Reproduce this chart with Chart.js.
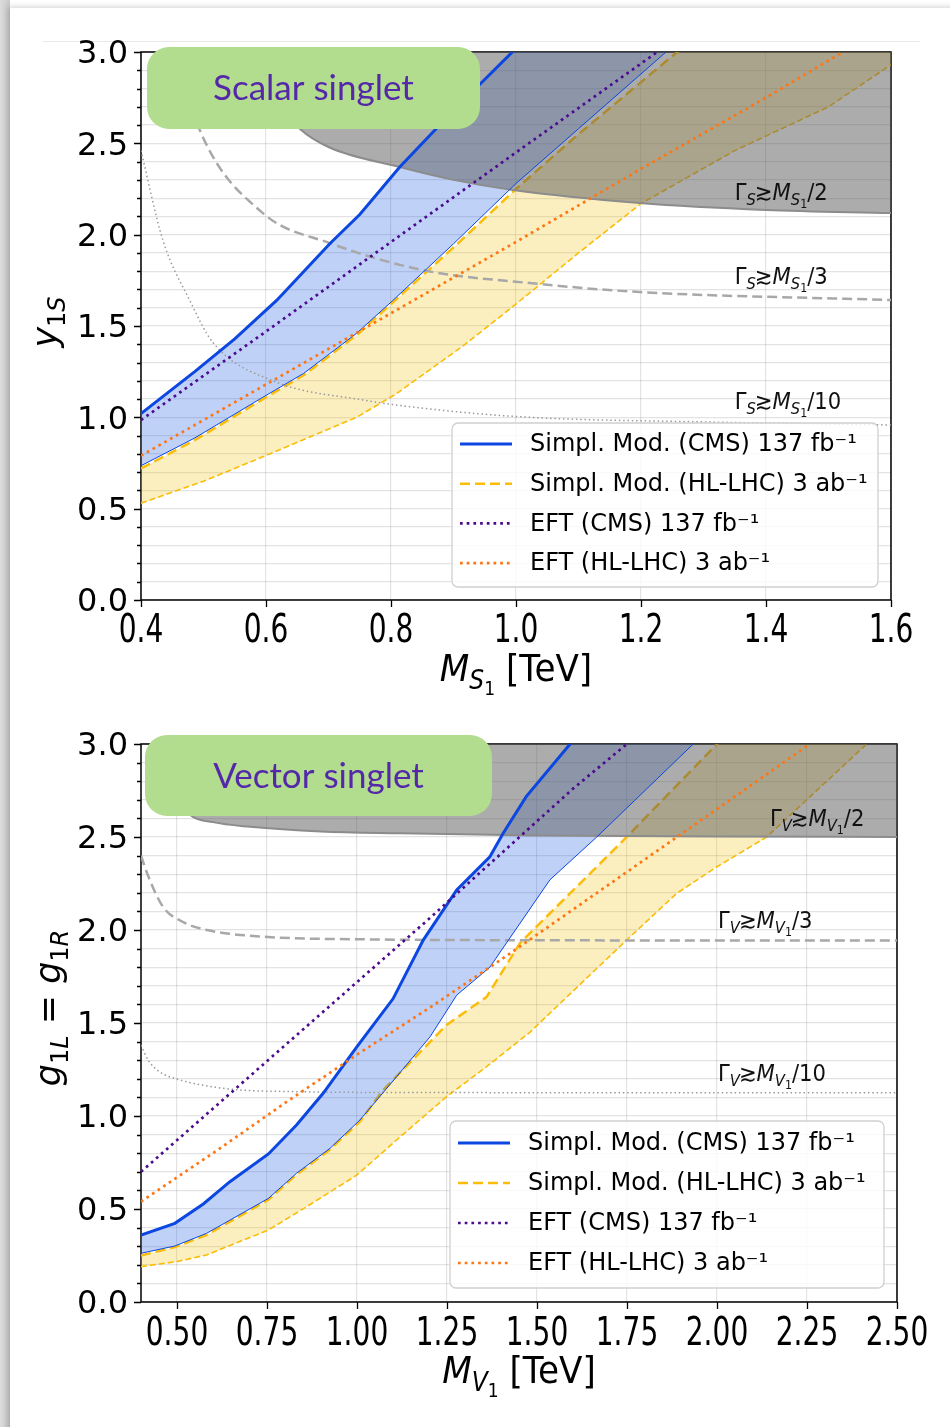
<!DOCTYPE html>
<html>
<head>
<meta charset="utf-8">
<script src="https://cdn.jsdelivr.net/npm/chart.js@4.4.0/dist/chart.umd.min.js"></script>
<style>
  html, body { margin: 0; padding: 0; background: #fff; }
  body { width: 950px; height: 1427px; position: relative; overflow: hidden; }
  #edge { position: absolute; left: 0; top: 0; width: 10px; height: 1427px; background: linear-gradient(to right, #dcdcdc, #c9c9c9); }
  #sheet { position: absolute; left: 10px; top: 8px; width: 960px; height: 1440px; background: #fff; box-shadow: -2px -1px 6px rgba(0,0,0,0.18); }
  #rule { position: absolute; left: 43px; top: 41px; width: 877px; height: 1px; background: #e8e8e8; }
  canvas { position: absolute; left: 0; }
  #scalar { top: 0; }
  #vector { top: 700px; }
</style>
</head>
<body>
<div id="edge"></div>
<div id="sheet"></div>
<div id="rule"></div>
<canvas id="scalar" width="950" height="700"></canvas>
<canvas id="vector" width="950" height="727"></canvas>
<script>
// shared y axis
const yMajor = [0, 0.5, 1.0, 1.5, 2.0, 2.5, 3.0];
const yTickLabels = ['0.0', '0.5', '1.0', '1.5', '2.0', '2.5', '3.0'];

// ---- scalar singlet ----
const sTicksX = [0.4, 0.6, 0.8, 1.0, 1.2, 1.4, 1.6];
const sTickLabelsX = ['0.4', '0.6', '0.8', '1.0', '1.2', '1.4', '1.6'];

const sHalfX = [0.55, 0.6, 0.654, 0.7, 0.814, 0.9, 0.995, 1.198, 1.4, 1.6];
const sHalfY = [3.0, 2.80, 2.58, 2.48, 2.37, 2.30, 2.244, 2.173, 2.135, 2.118];
const sThirdX = [0.47, 0.494, 0.595, 0.702, 0.851, 1.022, 1.198, 1.6];
const sThirdY = [2.85, 2.573, 2.118, 1.954, 1.806, 1.735, 1.686, 1.642];
const sTenthX = [0.4, 0.435, 0.478, 0.515, 0.611, 0.755, 0.878, 1.022, 1.3, 1.6];
const sTenthY = [2.46, 1.97, 1.64, 1.41, 1.20, 1.095, 1.04, 1.00, 0.975, 0.958];

const sCmsX = [0.4, 0.486, 0.55, 0.617, 0.702, 0.75, 0.814, 0.9, 1.0, 1.24];
const sCmsY = [1.02, 1.25, 1.43, 1.64, 1.95, 2.11, 2.37, 2.68, 3.02, 3.85];
const sCmsLowX = [0.4, 0.486, 0.595, 0.66, 0.745, 0.803, 0.9, 1.0, 1.1, 1.24];
const sCmsLowY = [0.735, 0.887, 1.11, 1.24, 1.46, 1.64, 1.95, 2.28, 2.58, 3.0];
const sHlX = [0.4, 0.486, 0.595, 0.66, 0.745, 0.803, 0.9, 1.0, 1.1, 1.258, 1.6];
const sHlY = [0.72, 0.875, 1.10, 1.23, 1.45, 1.63, 1.93, 2.25, 2.55, 3.0, 4.0];
const sHlLowX = [0.4, 0.5, 0.595, 0.745, 0.809, 0.915, 1.0, 1.1, 1.2, 1.35, 1.5, 1.6];
const sHlLowY = [0.53, 0.65, 0.784, 1.0, 1.13, 1.39, 1.62, 1.90, 2.17, 2.46, 2.70, 2.93];
const sEftCmsX = [0.4, 0.6, 0.8, 1.0, 1.226];
const sEftCmsY = [0.985, 1.47, 1.96, 2.45, 3.0];
const sEftHlX = [0.4, 0.6, 0.8, 1.0, 1.2, 1.4, 1.523];
const sEftHlY = [0.79, 1.18, 1.57, 1.96, 2.36, 2.75, 3.0];

// ---- vector singlet ----
const vTicksX = [0.5, 0.75, 1.0, 1.25, 1.5, 1.75, 2.0, 2.25, 2.5];
const vTickLabelsX = ['0.50', '0.75', '1.00', '1.25', '1.50', '1.75', '2.00', '2.25', '2.50'];

const vHalfX = [0.47, 0.5, 0.536, 0.6, 0.703, 0.9, 1.12, 1.5, 2.0, 2.5];
const vHalfY = [3.0, 2.72, 2.62, 2.58, 2.555, 2.53, 2.52, 2.508, 2.503, 2.5];
const vThirdX = [0.4, 0.42, 0.461, 0.52, 0.583, 0.739, 1.017, 1.5, 2.5];
const vThirdY = [2.40, 2.29, 2.125, 2.04, 2.0, 1.964, 1.95, 1.945, 1.943];
const vTenthX = [0.4, 0.42, 0.45, 0.508, 0.647, 0.833, 1.2, 2.5];
const vTenthY = [1.38, 1.30, 1.24, 1.194, 1.145, 1.131, 1.126, 1.125];

const vCmsX = [0.4, 0.494, 0.573, 0.647, 0.754, 0.832, 0.906, 1.0, 1.1, 1.184, 1.277, 1.369, 1.406, 1.47, 1.592, 1.934];
const vCmsY = [0.36, 0.423, 0.527, 0.647, 0.796, 0.952, 1.122, 1.373, 1.63, 1.946, 2.215, 2.394, 2.52, 2.717, 3.0, 3.8];
const vCmsLowX = [0.4, 0.494, 0.582, 0.754, 0.832, 0.925, 1.008, 1.11, 1.203, 1.277, 1.369, 1.536, 1.666, 1.934];
const vCmsLowY = [0.262, 0.301, 0.369, 0.557, 0.692, 0.826, 0.978, 1.211, 1.426, 1.65, 1.80, 2.27, 2.50, 3.0];
const vHlX = [0.4, 0.494, 0.582, 0.754, 0.832, 0.925, 1.008, 1.073, 1.249, 1.36, 1.453, 1.536, 1.656, 1.749, 2.0, 2.416];
const vHlY = [0.25, 0.295, 0.36, 0.55, 0.685, 0.82, 0.97, 1.14, 1.49, 1.64, 1.93, 2.09, 2.32, 2.50, 3.0, 3.83];
const vHlLowX = [0.4, 0.499, 0.582, 0.754, 0.86, 1.0, 1.11, 1.249, 1.36, 1.48, 1.749, 1.888, 2.0, 2.138, 2.416];
const vHlLowY = [0.19, 0.217, 0.253, 0.387, 0.512, 0.683, 0.871, 1.104, 1.265, 1.45, 1.946, 2.197, 2.34, 2.50, 3.0];
const vEftCmsX = [0.4, 0.6, 0.8, 1.0, 1.2, 1.4, 1.6, 1.75];
const vEftCmsY = [0.70, 1.04, 1.38, 1.72, 2.06, 2.41, 2.76, 3.0];
const vEftHlX = [0.4, 0.6, 0.8, 1.0, 1.2, 1.4, 1.6, 1.8, 2.0, 2.258];
const vEftHlY = [0.54, 0.80, 1.07, 1.33, 1.58, 1.84, 2.11, 2.38, 2.65, 3.0];

const legendNames = ['Simpl. Mod. (CMS) 137 fb⁻¹', 'Simpl. Mod. (HL-LHC) 3 ab⁻¹', 'EFT (CMS) 137 fb⁻¹', 'EFT (HL-LHC) 3 ab⁻¹'];

const BLUE = '#0b47e0', GOLD = '#fbbd0a', INDIGO = '#4b0a8f', ORANGE = '#ff7512';

function series(xs, ys) { return xs.map((x, i) => ({ x: x, y: ys[i] })); }

// minor grid every 0.1 on y
const yGrid = [];
for (let i = 0; i <= 30; i++) yGrid.push(i / 10);

function yLabel(v) {
  const k = yMajor.findIndex(m => Math.abs(m - v) < 1e-6);
  return k < 0 ? '' : yTickLabels[k];
}

// text with italic parts and (double) subscripts
function drawRich(ctx, parts, x, y, size, align, sx) {
  const scl = [1, 0.68, 0.5], drop = [0, 0.22, 0.36];
  const font = p => (p.it ? 'italic ' : '') + Math.round(size * scl[p.lvl || 0]) + 'px "DejaVu Sans"';
  let w = 0;
  parts.forEach(p => { ctx.font = font(p); w += ctx.measureText(p.t).width + (p.dx || 0) * size; });
  ctx.save();
  ctx.translate(x, y);
  ctx.scale(sx || 1, 1);
  ctx.textAlign = 'left';
  ctx.textBaseline = 'alphabetic';
  let cx = align === 'center' ? -w / 2 : 0;
  parts.forEach(p => {
    ctx.font = font(p);
    cx += (p.dx || 0) * size;
    ctx.fillText(p.t, cx, drop[p.lvl || 0] * size);
    cx += ctx.measureText(p.t).width;
  });
  ctx.restore();
}

function widthLabel(sym, frac) {
  return [{ t: 'Γ' }, { t: sym, lvl: 1, it: 1 }, { t: '≳', dx: -0.05 }, { t: 'M', it: 1 },
          { t: sym, lvl: 1, it: 1 }, { t: '1', lvl: 2 }, { t: frac }];
}

function decor(o) {
  return {
    id: 'decor',
    beforeDatasetsDraw(chart) {
      const { ctx, chartArea: a } = chart;
      ctx.save();
      ctx.strokeStyle = '#000';
      ctx.lineWidth = 1.5;
      ctx.strokeRect(a.left, a.top, a.right - a.left, a.bottom - a.top);
      ctx.restore();
    },
    afterDatasetsDraw(chart) {
      const { ctx, chartArea: a } = chart;
      const xs = chart.scales.x, ys = chart.scales.y;
      ctx.save();

      // tick marks
      ctx.strokeStyle = '#000';
      ctx.lineWidth = 1.3;
      ctx.beginPath();
      yGrid.forEach(v => {
        const py = Math.round(ys.getPixelForValue(v)) + 0.5;
        const len = yLabel(v) ? 7 : 4;
        ctx.moveTo(a.left - len, py); ctx.lineTo(a.left, py);
      });
      o.xTicks.forEach(v => {
        const px = Math.round(xs.getPixelForValue(v)) + 0.5;
        ctx.moveTo(px, a.bottom); ctx.lineTo(px, a.bottom + 7);
      });
      ctx.stroke();

      // x tick labels, narrow face
      ctx.fillStyle = '#000';
      o.xTicks.forEach((v, i) => {
        ctx.save();
        ctx.translate(xs.getPixelForValue(v), a.bottom + o.tickBase);
        ctx.scale(0.72, 1);
        ctx.font = '39px "DejaVu Sans"';
        ctx.textAlign = 'center';
        ctx.textBaseline = 'alphabetic';
        ctx.fillText(o.xLabels[i], 0, 0);
        ctx.restore();
      });

      // axis titles
      drawRich(ctx, o.xTitle, (a.left + a.right) / 2 + o.xTitleDx, a.bottom + o.xTitleBase, 38, 'center', 0.9);
      ctx.save();
      ctx.translate(o.yTitlePos[0], o.yTitlePos[1]);
      ctx.rotate(-Math.PI / 2);
      drawRich(ctx, o.yTitle, 0, 0, 35, 'center', 1);
      ctx.restore();

      // width annotations
      ctx.fillStyle = '#111';
      o.notes.forEach(n => {
        drawRich(ctx, n.parts, xs.getPixelForValue(n.x), ys.getPixelForValue(n.y), 23, 'left', 0.92);
      });

      // legend
      const L = o.legend;
      const bx = a.left + L.dx, by = a.top + L.dy;
      ctx.fillStyle = 'rgba(255,255,255,0.8)';
      ctx.strokeStyle = '#d0d0d0';
      ctx.lineWidth = 1.3;
      ctx.beginPath();
      ctx.roundRect(bx, by, L.w, L.h, 6);
      ctx.fill();
      ctx.stroke();
      o.legendOrder.forEach((di, i) => {
        const ds = chart.data.datasets[di];
        const ry = by + L.rowTop + i * L.rowGap;
        ctx.strokeStyle = ds.borderColor;
        ctx.lineWidth = Math.max(ds.borderWidth, 2.4);
        ctx.setLineDash(ds.borderDash || []);
        ctx.beginPath();
        ctx.moveTo(bx + 8, ry); ctx.lineTo(bx + 60, ry);
        ctx.stroke();
        ctx.setLineDash([]);
        ctx.fillStyle = '#000';
        ctx.font = '24px "DejaVu Sans"';
        ctx.textAlign = 'left';
        ctx.textBaseline = 'middle';
        ctx.fillText(legendNames[i], bx + 78, ry + 1);
      });

      // model badge
      const b = o.badge;
      ctx.fillStyle = '#b2dc8e';
      ctx.beginPath();
      ctx.roundRect(b.x, b.y, b.w, b.h, 22);
      ctx.fill();
      ctx.fillStyle = '#5428a8';
      ctx.font = '35px Lato';
      ctx.textAlign = 'center';
      ctx.textBaseline = 'middle';
      ctx.fillText(b.text, b.x + b.w / 2, b.y + b.h / 2 + 1);

      ctx.restore();
    }
  };
}

function buildChart(canvasId, d, o) {
  const grid = { color: 'rgba(0,0,0,0.11)', lineWidth: 1.2, drawTicks: false };
  // index 0 is painted last: fills and yellow curves sit under the wide-width region,
  // the blue and EFT curves above it
  const datasets = [
    { data: series(d.eftCmsX, d.eftCmsY), borderColor: INDIGO, borderWidth: 2.7, borderDash: [2.7, 4], fill: false },
    { data: series(d.eftHlX, d.eftHlY), borderColor: ORANGE, borderWidth: 2.7, borderDash: [2.7, 4], fill: false },
    { data: series(d.cmsX, d.cmsY), borderColor: BLUE, borderWidth: 3, fill: false },
    { data: series(d.cmsLowX, d.cmsLowY), borderColor: BLUE, borderWidth: 1, fill: false },
    { data: series(d.halfX, d.halfY), borderColor: '#8c8c8c', borderWidth: 2, fill: 'end', backgroundColor: 'rgba(90,90,90,0.5)', cubicInterpolationMode: 'monotone' },
    { data: series(d.thirdX, d.thirdY), borderColor: '#a8a8a8', borderWidth: 2.5, borderDash: [10, 5], fill: false, cubicInterpolationMode: 'monotone' },
    { data: series(d.tenthX, d.tenthY), borderColor: '#9a9a9a', borderWidth: 1.5, borderDash: [1.5, 2.8], fill: false, cubicInterpolationMode: 'monotone' },
    // blue band: same upper curve, filled down to the thin CMS curve (index 3)
    { data: series(d.cmsX, d.cmsY), borderColor: 'transparent', borderWidth: 1, fill: 3, backgroundColor: 'rgba(30,90,230,0.28)' },
    { data: series(d.hlX, d.hlY), borderColor: GOLD, borderWidth: 2.5, borderDash: [10, 5], fill: '+1', backgroundColor: 'rgba(245,190,0,0.25)' },
    { data: series(d.hlLowX, d.hlLowY), borderColor: GOLD, borderWidth: 1.6, borderDash: [6, 3], fill: false }
  ];
  datasets.forEach(ds => { ds.pointRadius = 0; ds.pointHoverRadius = 0; });

  return new Chart(document.getElementById(canvasId), {
    type: 'line',
    data: { datasets: datasets },
    options: {
      responsive: false,
      animation: false,
      events: [],
      layout: { padding: o.padding },
      plugins: { legend: { display: false }, tooltip: { enabled: false } },
      scales: {
        x: {
          type: 'linear', min: o.xMin, max: o.xMax,
          afterBuildTicks: s => { s.ticks = o.xTicks.map(v => ({ value: v })); },
          afterFit: s => { s.height = o.xAxisH; },
          grid: grid,
          border: { display: false },
          ticks: { display: false }
        },
        y: {
          type: 'linear', min: 0, max: 3,
          afterBuildTicks: s => { s.ticks = yGrid.map(v => ({ value: v })); },
          afterFit: s => { s.width = 141; },
          grid: grid,
          border: { display: false },
          ticks: {
            padding: 13, labelOffset: 3, color: '#000', autoSkip: false,
            font: { family: 'DejaVu Sans', size: 32 },
            callback: v => yLabel(v)
          }
        }
      }
    },
    plugins: [decor(o)]
  });
}

buildChart('scalar', {
  halfX: sHalfX, halfY: sHalfY, thirdX: sThirdX, thirdY: sThirdY, tenthX: sTenthX, tenthY: sTenthY,
  cmsX: sCmsX, cmsY: sCmsY, cmsLowX: sCmsLowX, cmsLowY: sCmsLowY,
  hlX: sHlX, hlY: sHlY, hlLowX: sHlLowX, hlLowY: sHlLowY,
  eftCmsX: sEftCmsX, eftCmsY: sEftCmsY, eftHlX: sEftHlX, eftHlY: sEftHlY
}, {
  padding: { top: 52, right: 59, left: 0, bottom: 0 },
  xMin: 0.4, xMax: 1.6, xAxisH: 100,
  xTicks: sTicksX, xLabels: sTickLabelsX, tickBase: 42,
  xTitle: [{ t: 'M', it: 1 }, { t: 'S', lvl: 1, it: 1 }, { t: '1', lvl: 2 }, { t: ' [TeV]' }],
  xTitleDx: 0, xTitleBase: 81,
  yTitle: [{ t: 'y', it: 1 }, { t: '1', lvl: 1 }, { t: 'S', lvl: 1, it: 1 }],
  yTitlePos: [57, 322],
  notes: [
    { x: 1.35, y: 2.19, parts: widthLabel('S', '/2') },
    { x: 1.35, y: 1.73, parts: widthLabel('S', '/3') },
    { x: 1.35, y: 1.045, parts: widthLabel('S', '/10') }
  ],
  legend: { dx: 311, dy: 371, w: 426, h: 164, rowTop: 21, rowGap: 39.7 },
  legendOrder: [2, 8, 0, 1],
  badge: { x: 147, y: 47, w: 333, h: 82, text: 'Scalar singlet' }
});

buildChart('vector', {
  halfX: vHalfX, halfY: vHalfY, thirdX: vThirdX, thirdY: vThirdY, tenthX: vTenthX, tenthY: vTenthY,
  cmsX: vCmsX, cmsY: vCmsY, cmsLowX: vCmsLowX, cmsLowY: vCmsLowY,
  hlX: vHlX, hlY: vHlY, hlLowX: vHlLowX, hlLowY: vHlLowY,
  eftCmsX: vEftCmsX, eftCmsY: vEftCmsY, eftHlX: vEftHlX, eftHlY: vEftHlY
}, {
  padding: { top: 44, right: 53, left: 0, bottom: 0 },
  xMin: 0.4, xMax: 2.5, xAxisH: 125,
  xTicks: vTicksX, xLabels: vTickLabelsX, tickBase: 43,
  xTitle: [{ t: 'M', it: 1 }, { t: 'V', lvl: 1, it: 1 }, { t: '1', lvl: 2 }, { t: ' [TeV]' }],
  xTitleDx: 0, xTitleBase: 81,
  yTitle: [{ t: 'g', it: 1 }, { t: '1', lvl: 1 }, { t: 'L', lvl: 1, it: 1 }, { t: ' = ' },
           { t: 'g', it: 1 }, { t: '1', lvl: 1 }, { t: 'R', lvl: 1, it: 1 }],
  yTitlePos: [60, 308],
  notes: [
    { x: 2.147, y: 2.56, parts: widthLabel('V', '/2') },
    { x: 2.003, y: 2.01, parts: widthLabel('V', '/3') },
    { x: 2.003, y: 1.19, parts: widthLabel('V', '/10') }
  ],
  legend: { dx: 309, dy: 377, w: 434, h: 167, rowTop: 22, rowGap: 40 },
  legendOrder: [2, 8, 0, 1],
  badge: { x: 145, y: 35, w: 347, h: 81, text: 'Vector singlet' }
});
</script>
</body>
</html>
